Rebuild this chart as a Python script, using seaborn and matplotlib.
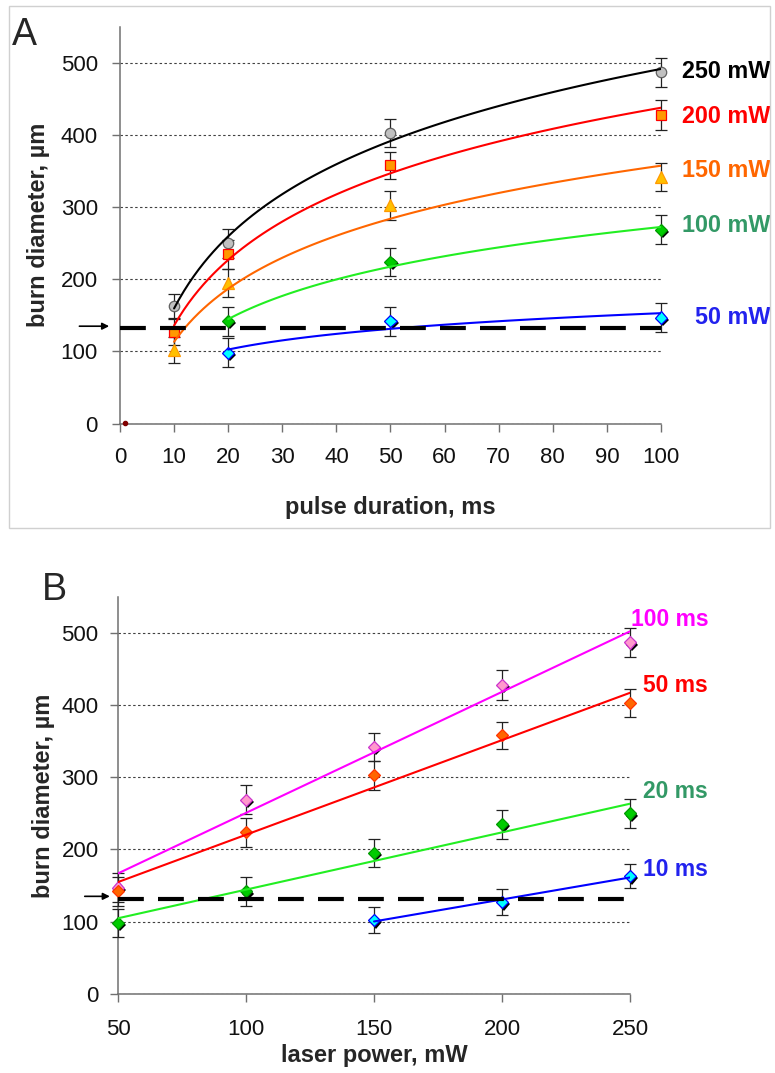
import numpy as np
import pandas as pd
import matplotlib.pyplot as plt
import matplotlib.patheffects as pe
from matplotlib.patches import Rectangle
import seaborn as sns

# measured burn diameters (um) per laser power, at each pulse duration
pulse_ms = [10, 20, 50, 100]
powers_mw = [250, 200, 150, 100, 50]
diam_250 = [163, 250, 403, 487]
diam_200 = [127, 235, 358, 428]
diam_150 = [102, 195, 303, 342]
diam_100 = [np.nan, 142, 224, 269]
diam_50 = [np.nan, 98, 142, 147]
err_250 = [17, 20, 20, 20]
err_200 = [18, 20, 19, 21]
err_150 = [18, 20, 20, 20]
err_100 = [np.nan, 20, 20, 20]
err_50 = [np.nan, 20, 20, 20]

pulses_b = [100, 50, 20, 10]
threshold_um = 132
stray_x = [0.9]
stray_y = [1]

rows = []
for p, d, e in zip(powers_mw, [diam_250, diam_200, diam_150, diam_100, diam_50],
                   [err_250, err_200, err_150, err_100, err_50]):
    for t, v, s in zip(pulse_ms, d, e):
        if not np.isnan(v):
            rows.append((p, t, v, s))
df = pd.DataFrame(rows, columns=["power", "pulse", "diam", "err"])

sns.set_theme(style="white")
plt.rcParams["font.family"] = ["Liberation Sans", "DejaVu Sans"]

style_a = {
    250: dict(line="black", face="#c0c0c0", edge="#606060", marker="o", ms=7.5, shadow=False, tc="black", dx=15, dy=1),
    200: dict(line="#ff0000", face="#ff9900", edge="#ff0000", marker="s", ms=7.3, shadow=False, tc="#ff0000", dx=15, dy=-1),
    150: dict(line="#ff6600", face="#ffc000", edge="#ff9900", marker="^", ms=9, shadow=False, tc="#ff6600", dx=15, dy=5),
    100: dict(line="#22ee22", face="#00cc00", edge="#009900", marker="D", ms=6.2, shadow=True, tc="#339966", dx=15, dy=3),
    50: dict(line="#0000ff", face="#00ffff", edge="#0000ff", marker="D", ms=6.2, shadow=True, tc="#2222ee", dx=24.5, dy=0),
}
style_b = {
    100: dict(line="#ff00ff", face="#ff99cc", edge="#cc33cc", shadow=True, tc="#ff00ff", dx=1, dy=16.5),
    50: dict(line="#ff0000", face="#ff6600", edge="#ff3300", shadow=False, tc="#ff0000", dx=9.5, dy=12.5),
    20: dict(line="#22ee22", face="#00cc00", edge="#009900", shadow=True, tc="#339966", dx=9.5, dy=16),
    10: dict(line="#0000ff", face="#00ffff", edge="#0000ff", shadow=True, tc="#2222ee", dx=9.5, dy=5),
}
shadow = [pe.SimplePatchShadow(offset=(1.6, -1.6), shadow_rgbFace="black", alpha=1.0), pe.Normal()]

fig = plt.figure(figsize=(7.75, 10.73), dpi=100)
fig.add_artist(Rectangle((0.0116, 0.5079), 0.982, 0.4865, transform=fig.transFigure,
                         fill=False, ec="#d0d0d0", lw=1))


def style_axes(ax):
    for s in ["top", "right"]:
        ax.spines[s].set_visible(False)
    for s in ["left", "bottom"]:
        ax.spines[s].set_color("#707070")
        ax.spines[s].set_linewidth(1.1)
    ax.set_ylim(0, 550)
    ax.set_yticks(range(0, 501, 100))
    ax.yaxis.grid(True, linestyle=(0, (2.2, 2.2)), color="#404040", lw=0.8)
    ax.xaxis.grid(False)
    ax.tick_params(direction="out", length=6, width=1, color="#707070",
                   labelsize=16, labelcolor="#111111", left=True, bottom=True)
    ax.axhline(threshold_um, color="black", lw=3, ls=(0, (6.2, 3.4)), zorder=5)


# ---- panel A: diameter vs pulse duration
axA = fig.add_axes([0.1548, 0.6053, 0.6981, 0.3695])
for p in powers_mw:
    st = style_a[p]
    sub = df[df.power == p]
    sns.regplot(data=sub, x="pulse", y="diam", logx=True, ci=None, scatter=False,
                ax=axA, color=st["line"], line_kws=dict(lw=1.5, zorder=4))
    ln, caps, bars = axA.errorbar(sub.pulse, sub.diam, yerr=sub.err, fmt=st["marker"], ms=st["ms"],
                                  mfc=st["face"], mec=st["edge"], mew=0.9, ecolor="#222222",
                                  elinewidth=0.9, capsize=4.5, capthick=0.9, zorder=3, clip_on=False)
    for c in caps:
        c.set_clip_on(False)
    for b in bars:
        b.set_clip_on(False)
    if st["shadow"]:
        ln.set_path_effects(shadow)
    axA.annotate(f"{p} mW", xy=(sub.pulse.iloc[-1], sub.diam.iloc[-1]), xytext=(st["dx"], st["dy"]),
                 textcoords="offset points", color=st["tc"], fontsize=16.8, fontweight="bold",
                 ha="left", va="center", annotation_clip=False)
axA.plot(stray_x, stray_y, "o", color="#800000", ms=3, clip_on=False, zorder=6)
style_axes(axA)
axA.set_xlim(0, 100)
axA.set_xticks(range(0, 101, 10))
axA.tick_params(axis="x", pad=11)
axA.tick_params(axis="y", pad=10)
axA.set_xlabel("pulse duration, ms", fontsize=17, fontweight="bold")
axA.set_ylabel("burn diameter, µm", fontsize=17, fontweight="bold")
axA.xaxis.set_label_coords(0.5, -0.183)
axA.yaxis.set_label_coords(-0.129, 0.5)
axA.annotate("", xy=(-0.02, 135), xycoords=("axes fraction", "data"),
             xytext=(-0.075, 135), textcoords=("axes fraction", "data"),
             arrowprops=dict(arrowstyle="-|>", color="black", lw=1.2, mutation_scale=10,
                             shrinkA=0, shrinkB=0), annotation_clip=False)

# ---- panel B: diameter vs laser power
axB = fig.add_axes([0.1523, 0.0739, 0.6606, 0.3697])
for t in pulses_b:
    st = style_b[t]
    sub = df[df.pulse == t].sort_values("power")
    sns.regplot(data=sub, x="power", y="diam", ci=None, scatter=False, ax=axB,
                color=st["line"], line_kws=dict(lw=1.5, zorder=4))
    ln, caps, bars = axB.errorbar(sub.power, sub.diam, yerr=sub.err, fmt="D", ms=6.3,
                                  mfc=st["face"], mec=st["edge"], mew=0.9, ecolor="#222222",
                                  elinewidth=0.9, capsize=4, capthick=0.9, zorder=3, clip_on=False)
    for c in caps:
        c.set_clip_on(False)
    for b in bars:
        b.set_clip_on(False)
    if st["shadow"]:
        ln.set_path_effects(shadow)
    axB.annotate(f"{t} ms", xy=(sub.power.iloc[-1], sub.diam.iloc[-1]), xytext=(st["dx"], st["dy"]),
                 textcoords="offset points", color=st["tc"], fontsize=16.5, fontweight="bold",
                 ha="left", va="center", annotation_clip=False)
style_axes(axB)
axB.set_xlim(50, 250)
axB.set_xticks(range(50, 251, 50))
axB.tick_params(axis="x", pad=12)
axB.tick_params(axis="y", pad=8)
axB.set_xlabel("laser power, mW", fontsize=17, fontweight="bold")
axB.set_ylabel("burn diameter, µm", fontsize=17, fontweight="bold")
axB.xaxis.set_label_coords(0.5, -0.127)
axB.yaxis.set_label_coords(-0.123, 0.5)
axB.annotate("", xy=(-0.016, 135), xycoords=("axes fraction", "data"),
             xytext=(-0.065, 135), textcoords=("axes fraction", "data"),
             arrowprops=dict(arrowstyle="-|>", color="black", lw=1.2, mutation_scale=10,
                             shrinkA=0, shrinkB=0), annotation_clip=False)

fig.text(12 / 775, 1 - 45 / 1073, "A", fontsize=27, va="baseline", ha="left")
fig.text(42 / 775, 1 - 600 / 1073, "B", fontsize=27, va="baseline", ha="left")

fig.savefig("out.png", dpi=100)
